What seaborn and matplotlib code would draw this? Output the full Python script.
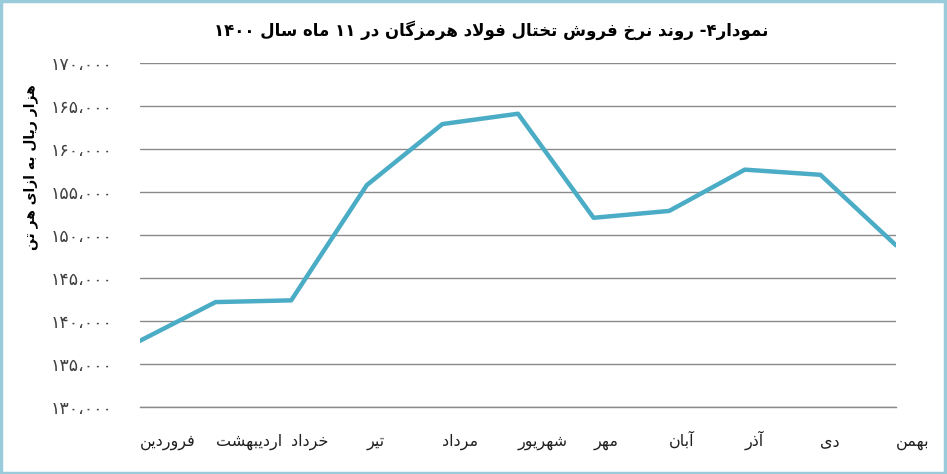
import matplotlib
matplotlib.use('Agg')
import matplotlib.pyplot as plt
import seaborn as sns
import pandas as pd
from matplotlib.patches import Rectangle

# -----------------------------
# داده‌ها
# -----------------------------
title = "نمودار۴- روند نرخ فروش تختال فولاد هرمزگان در ۱۱ ماه سال ۱۴۰۰"
ylabel = "هزار ریال به ازای هر تن"
months = ["فروردین", "اردیبهشت", "خرداد", "تیر", "مرداد", "شهریور",
          "مهر", "آبان", "آذر", "دی", "بهمن"]
prices = [137700, 142200, 142400, 155800, 162900, 164100,
          152000, 152800, 157600, 157000, 148800]
yticks = [130000, 135000, 140000, 145000, 150000, 155000, 160000, 165000, 170000]

# -----------------------------
# شکل‌دهی حروف فارسی (matplotlib خودش انجام نمی‌دهد)
# -----------------------------
# (isolated, final, initial, medial)
FORMS = {
    'ا': (0xFE8D, 0xFE8E, None, None), 'آ': (0xFE81, 0xFE82, None, None),
    'ب': (0xFE8F, 0xFE90, 0xFE91, 0xFE92), 'پ': (0xFB56, 0xFB57, 0xFB58, 0xFB59),
    'ت': (0xFE95, 0xFE96, 0xFE97, 0xFE98), 'ث': (0xFE99, 0xFE9A, 0xFE9B, 0xFE9C),
    'ج': (0xFE9D, 0xFE9E, 0xFE9F, 0xFEA0), 'چ': (0xFB7A, 0xFB7B, 0xFB7C, 0xFB7D),
    'ح': (0xFEA1, 0xFEA2, 0xFEA3, 0xFEA4), 'خ': (0xFEA5, 0xFEA6, 0xFEA7, 0xFEA8),
    'د': (0xFEA9, 0xFEAA, None, None), 'ذ': (0xFEAB, 0xFEAC, None, None),
    'ر': (0xFEAD, 0xFEAE, None, None), 'ز': (0xFEAF, 0xFEB0, None, None),
    'ژ': (0xFB8A, 0xFB8B, None, None),
    'س': (0xFEB1, 0xFEB2, 0xFEB3, 0xFEB4), 'ش': (0xFEB5, 0xFEB6, 0xFEB7, 0xFEB8),
    'ف': (0xFED1, 0xFED2, 0xFED3, 0xFED4), 'ق': (0xFED5, 0xFED6, 0xFED7, 0xFED8),
    'ک': (0xFB8E, 0xFB8F, 0xFB90, 0xFB91), 'گ': (0xFB92, 0xFB93, 0xFB94, 0xFB95),
    'ل': (0xFEDD, 0xFEDE, 0xFEDF, 0xFEE0), 'م': (0xFEE1, 0xFEE2, 0xFEE3, 0xFEE4),
    'ن': (0xFEE5, 0xFEE6, 0xFEE7, 0xFEE8), 'و': (0xFEED, 0xFEEE, None, None),
    'ه': (0xFEE9, 0xFEEA, 0xFEEB, 0xFEEC), 'ی': (0xFBFC, 0xFBFD, 0xFBFE, 0xFBFF),
}


def joins_left(c):
    return c in FORMS and FORMS[c][2] is not None


def shape(text):
    out = []
    n = len(text)
    i = 0
    while i < n:
        c = text[i]
        if c not in FORMS:
            out.append(c)
            i += 1
            continue
        prev_join = i > 0 and joins_left(text[i - 1])
        # لا ligature
        if c == 'ل' and i + 1 < n and text[i + 1] == 'ا':
            out.append(chr(0xFEFC if prev_join else 0xFEFB))
            i += 2
            continue
        next_join = joins_left(c) and i + 1 < n and text[i + 1] in FORMS
        iso, fin, ini, med = FORMS[c]
        if prev_join and next_join:
            cp = med
        elif prev_join:
            cp = fin
        elif next_join:
            cp = ini
        else:
            cp = iso
        out.append(chr(cp))
        i += 1
    # ترتیب نمایش راست به چپ، اعداد چپ به راست
    shaped = ''.join(out)
    runs, cur, is_digit = [], '', None
    for ch in shaped:
        d = '\u06F0' <= ch <= '\u06F9'
        if cur and d != is_digit:
            runs.append((cur, is_digit))
            cur = ''
        cur += ch
        is_digit = d
    if cur:
        runs.append((cur, is_digit))
    vis = ''
    for r, d in reversed(runs):
        vis += r if d else r[::-1]
    return vis


def fa_num(v):
    s = f"{v:,}".replace(',', '،')
    return s.translate(str.maketrans('0123456789', '۰۱۲۳۴۵۶۷۸۹'))


# -----------------------------
# رسم
# -----------------------------
sns.set_style('white')
plt.rcParams['font.family'] = ['DejaVu Sans']

df = pd.DataFrame({'month': range(len(months)), 'price': prices})

fig = plt.figure(figsize=(9.47, 4.74), dpi=100)
ax = fig.add_axes([140 / 947, 1 - 407 / 474, 756 / 947, 344 / 474])

sns.lineplot(data=df, x='month', y='price', ax=ax, color='#4BACC6', linewidth=3.2)

ax.set_xlim(0, len(months) - 1)
ax.set_ylim(yticks[0], yticks[-1])
ax.set_yticks(yticks)
ax.set_yticklabels([fa_num(v) for v in yticks], fontsize=12.5, color='#404040')
ax.yaxis.grid(True, color='#8a8a8a', linewidth=1)
ax.set_axisbelow(True)
ax.tick_params(axis='y', length=0, pad=20)

ax.set_xticks(range(len(months)))
ax.set_xticklabels([shape(m) for m in months], fontsize=11.5, color='#202020',
                   ha='left', va='baseline')
ax.tick_params(axis='x', length=6, color='#8a8a8a', direction='out', pad=22)

for s in ['top', 'right', 'left']:
    ax.spines[s].set_visible(False)
ax.spines['bottom'].set_color('#8a8a8a')
ax.spines['bottom'].set_linewidth(1)

ax.set_xlabel('')
ax.set_ylabel('')
fig.text(31 / 947, 1 - 167 / 474, shape(ylabel), rotation=90, ha='center', va='center',
         fontsize=10, fontweight='bold', color='black')
fig.text(491 / 947, 1 - 30 / 474, shape(title), ha='center', va='center',
         fontsize=12, fontweight='bold', color='black')

# کادر دور نمودار
fig.patches.append(Rectangle((0.001, 0.002), 0.997, 0.996, transform=fig.transFigure,
                             fill=False, edgecolor='#9ACBDB', linewidth=2.5))

plt.savefig('out.png', dpi=100)
plt.close()
